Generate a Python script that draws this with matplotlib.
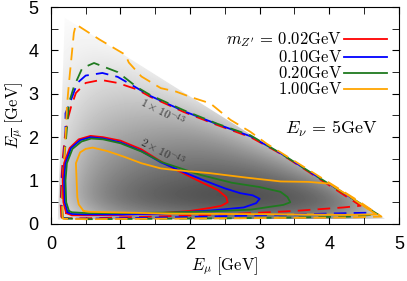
import numpy as np
import matplotlib
matplotlib.use('Agg')
import matplotlib.pyplot as plt
from matplotlib.patches import Polygon
from matplotlib.lines import Line2D

plt.rcParams['mathtext.fontset'] = 'cm'
plt.rcParams['font.family'] = 'Liberation Sans'

# masses and colours
masses = ['0.02', '0.10', '0.20', '1.00']
colors = ['#ff0000', '#0000ff', '#1f7a1f', '#ffa500']

# background density (gray level), rows E_mubar = 0..5 step 0.5, cols E_mu = 0..5 step 0.5
shade = np.array([
    [1.0, 0.85, 0.72, 0.66, 0.62, 0.60, 0.60, 0.62, 0.66, 0.78, 1.0],
    [0.92, 0.58, 0.42, 0.34, 0.29, 0.27, 0.27, 0.29, 0.35, 0.52, 1.0],
    [0.92, 0.60, 0.47, 0.40, 0.37, 0.35, 0.37, 0.43, 0.58, 1.0, 1.0],
    [0.93, 0.66, 0.55, 0.50, 0.47, 0.48, 0.53, 0.68, 1.0, 1.0, 1.0],
    [0.94, 0.72, 0.64, 0.60, 0.58, 0.62, 0.78, 1.0, 1.0, 1.0, 1.0],
    [0.95, 0.78, 0.72, 0.70, 0.72, 0.85, 1.0, 1.0, 1.0, 1.0, 1.0],
    [0.96, 0.84, 0.80, 0.81, 0.90, 1.0, 1.0, 1.0, 1.0, 1.0, 1.0],
    [0.97, 0.89, 0.87, 0.93, 1.0, 1.0, 1.0, 1.0, 1.0, 1.0, 1.0],
    [0.98, 0.93, 0.95, 1.0, 1.0, 1.0, 1.0, 1.0, 1.0, 1.0, 1.0],
    [0.98, 0.96, 1.0, 1.0, 1.0, 1.0, 1.0, 1.0, 1.0, 1.0, 1.0],
    [1.0, 1.0, 1.0, 1.0, 1.0, 1.0, 1.0, 1.0, 1.0, 1.0, 1.0],
])
# kinematic region (triangle)
region_x = [0.10, 0.20, 4.80, 0.10]
region_y = [0.10, 4.75, 0.12, 0.10]

# 2e-43 contours (solid)
solid_x = [
    [0.22, 0.18, 0.17, 0.19, 0.27, 0.40, 0.57, 0.75, 1.00, 1.30, 1.55, 1.80, 2.15, 2.40, 2.52, 2.54, 2.45, 2.29, 2.00, 1.58, 1.00, 0.50, 0.30, 0.22],
    [0.24, 0.20, 0.19, 0.21, 0.29, 0.42, 0.57, 0.75, 1.00, 1.30, 1.58, 1.90, 2.19, 2.50, 2.72, 2.90, 3.00, 2.95, 2.77, 2.30, 1.58, 1.00, 0.50, 0.30, 0.24],
    [0.26, 0.22, 0.21, 0.23, 0.31, 0.44, 0.58, 0.75, 1.00, 1.30, 1.60, 2.15, 2.60, 3.00, 3.30, 3.40, 3.44, 3.34, 2.87, 2.30, 1.60, 1.00, 0.50, 0.30, 0.26],
    [0.47, 0.40, 0.38, 0.37, 0.36, 0.42, 0.50, 0.60, 0.81, 1.05, 1.30, 1.58, 1.80, 2.29, 2.80, 3.30, 3.70, 4.00, 4.30, 4.55, 4.68, 4.30, 3.50, 2.50, 1.72, 0.81, 0.55, 0.47],
]
solid_y = [
    [0.25, 0.50, 1.00, 1.40, 1.75, 1.95, 2.03, 2.00, 1.92, 1.72, 1.47, 1.25, 0.97, 0.78, 0.62, 0.50, 0.42, 0.37, 0.30, 0.25, 0.21, 0.20, 0.20, 0.25],
    [0.27, 0.50, 1.00, 1.40, 1.75, 1.93, 2.00, 1.97, 1.88, 1.68, 1.42, 1.20, 1.01, 0.82, 0.71, 0.66, 0.58, 0.48, 0.38, 0.31, 0.24, 0.22, 0.22, 0.23, 0.27],
    [0.30, 0.50, 1.00, 1.40, 1.73, 1.90, 1.97, 1.95, 1.86, 1.67, 1.42, 1.13, 0.95, 0.85, 0.74, 0.62, 0.50, 0.44, 0.33, 0.29, 0.26, 0.25, 0.25, 0.27, 0.30],
    [0.30, 0.45, 0.62, 1.00, 1.40, 1.65, 1.73, 1.76, 1.68, 1.55, 1.40, 1.28, 1.24, 1.17, 1.07, 0.98, 0.97, 0.93, 0.63, 0.35, 0.22, 0.21, 0.22, 0.23, 0.24, 0.27, 0.28, 0.30],
]

# 1e-43 contours (dashed)
dash_x = [
    [0.15, 0.14, 0.15, 0.17, 0.20, 0.24, 0.29, 0.36, 0.50, 0.72, 0.96, 1.24, 1.43, 1.91, 2.39, 2.87, 3.30, 3.80, 4.20, 4.45, 4.20, 3.50, 2.50, 1.50, 0.50, 0.20, 0.15],
    [0.17, 0.15, 0.16, 0.18, 0.21, 0.21, 0.29, 0.38, 0.50, 0.74, 0.96, 1.24, 1.43, 1.91, 2.39, 2.87, 3.30, 3.80, 4.30, 4.62, 4.58, 4.00, 3.00, 2.00, 1.00, 0.30, 0.17],
    [0.17, 0.16, 0.17, 0.19, 0.22, 0.26, 0.33, 0.45, 0.62, 0.96, 1.24, 1.43, 1.91, 2.39, 2.87, 3.30, 3.80, 4.30, 4.70, 4.30, 3.50, 2.50, 1.50, 0.50, 0.17],
    [0.17, 0.16, 0.17, 0.19, 0.21, 0.23, 0.26, 0.33, 0.36, 0.70, 1.07, 1.12, 1.30, 1.58, 1.80, 2.00, 2.29, 2.58, 2.87, 3.10, 3.50, 4.00, 4.40, 4.75, 4.30, 3.50, 2.50, 1.50, 0.50, 0.17],
]
dash_y = [
    [0.15, 0.50, 1.00, 1.50, 2.00, 2.40, 2.70, 3.02, 3.25, 3.32, 3.25, 3.10, 2.93, 2.58, 2.28, 2.00, 1.62, 1.10, 0.68, 0.42, 0.38, 0.30, 0.22, 0.17, 0.13, 0.13, 0.15],
    [0.14, 0.50, 1.00, 1.50, 2.00, 2.55, 2.86, 3.25, 3.42, 3.48, 3.39, 3.13, 2.95, 2.60, 2.30, 2.02, 1.63, 1.12, 0.62, 0.30, 0.26, 0.24, 0.20, 0.16, 0.13, 0.12, 0.14],
    [0.13, 0.50, 1.00, 1.50, 2.00, 2.79, 3.16, 3.59, 3.71, 3.50, 3.15, 2.97, 2.62, 2.31, 2.04, 1.63, 1.12, 0.62, 0.22, 0.17, 0.15, 0.13, 0.12, 0.11, 0.13],
    [0.12, 0.50, 1.00, 1.50, 2.00, 2.70, 3.25, 4.40, 4.60, 4.25, 3.90, 3.72, 3.40, 3.13, 3.05, 2.93, 2.78, 2.40, 2.12, 1.85, 1.45, 0.95, 0.55, 0.17, 0.15, 0.14, 0.13, 0.12, 0.11, 0.12],
]

ticks = [0, 1, 2, 3, 4, 5]

fig = plt.figure(figsize=(4.07, 2.81), dpi=100)
ax = fig.add_axes([0.125, 0.203, 0.855, 0.772])

# gray density background clipped to the kinematic triangle
im = ax.imshow(shade, origin='lower', extent=(-0.25, 5.25, -0.25, 5.25), cmap='gray',
               vmin=0, vmax=1, interpolation='bicubic', aspect='auto', zorder=0)
tri = Polygon(np.column_stack([region_x, region_y]), closed=True, transform=ax.transData,
              facecolor='none', edgecolor='none')
ax.add_patch(tri)
im.set_clip_path(tri)

for i in range(4):
    ax.plot(dash_x[i], dash_y[i], color=colors[i], lw=1.3, dashes=(7, 4), zorder=2)
for i in range(4):
    ax.plot(solid_x[i], solid_y[i], color=colors[i], lw=1.3, zorder=3)

ax.text(1.6, 2.58, r'$1\times10^{-43}$', fontsize=8.5, color='#333333', rotation=-27,
        ha='center', va='center', zorder=4)
ax.text(1.6, 1.66, r'$2\times10^{-43}$', fontsize=8.5, color='#333333', rotation=-27,
        ha='center', va='center', zorder=4)
ax.text(4.03, 2.2, r'$E_\nu\, =\, 5\mathrm{GeV}$', fontsize=13, ha='center', va='center')

handles = [Line2D([], [], color=c, lw=1.3) for c in colors]
labels = [r'$m_{Z^\prime}\, =\, ' + masses[0] + r'\mathrm{GeV}$'] + \
         [r'$' + m + r'\mathrm{GeV}$' for m in masses[1:]]
ax.legend(handles, labels, loc='upper right', bbox_to_anchor=(0.99, 0.93), frameon=False,
          markerfirst=False, fontsize=12, handlelength=2.6, handletextpad=0.1,
          labelspacing=0.0, borderpad=0)

ax.set_xlim(0, 5)
ax.set_ylim(0, 5)
ax.set_xticks(ticks)
ax.set_yticks(ticks)
ax.set_xticks(np.arange(0.5, 5, 1), minor=True)
ax.set_yticks(np.arange(0.5, 5, 1), minor=True)
ax.tick_params(which='both', direction='in', top=True, right=True, labelsize=13, pad=9)
ax.tick_params(which='major', length=5)
ax.tick_params(which='minor', length=5)
ax.set_xlabel(r'$E_\mu\ [\mathrm{GeV}]$', fontsize=12, labelpad=1)
ax.set_ylabel(r'$E_{\overline{\mu}}\ [\mathrm{GeV}]$', fontsize=12, labelpad=2)

fig.savefig('out.png', dpi=100)
